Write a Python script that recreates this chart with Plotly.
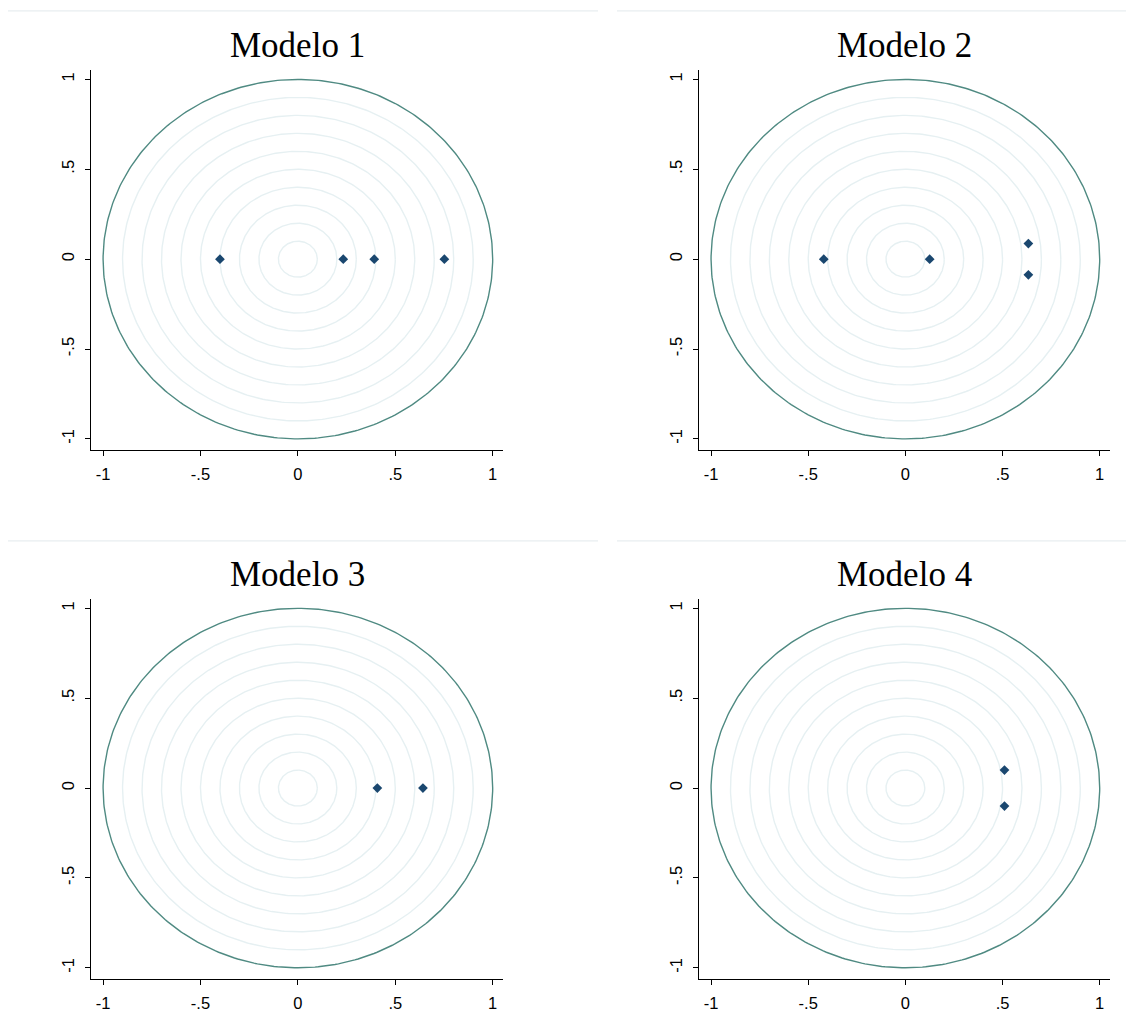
import numpy as np
import plotly.graph_objects as go

# ---- data ----
titles = ["Modelo 1", "Modelo 2", "Modelo 3", "Modelo 4"]
real_parts = [
    [-0.40, 0.233, 0.392, 0.752],
    [-0.42, 0.125, 0.633, 0.633],
    [0.408, 0.642],
    [0.51, 0.51],
]
imag_parts = [
    [0.0, 0.0, 0.0, 0.0],
    [0.0, 0.0, 0.087, -0.087],
    [0.0, 0.0],
    [0.10, -0.10],
]
grid_radii = [0.1, 0.2, 0.3, 0.4, 0.5, 0.6, 0.7, 0.8, 0.9]
unit_radius = 1.0
tick_vals = [-1, -0.5, 0, 0.5, 1]
tick_text = ["-1", "-.5", "0", ".5", "1"]

# ---- layout geometry (page pixels; body margin removed below) ----
W, H = 1134, 1012


def px(v):
    return v / W


def py(v):
    return 1 - v / H


x_doms = [(px(91), px(503)), (px(699), px(1110))]
y_doms = [(py(452), py(70)), (py(983), py(601))]

theta = np.linspace(0, 2 * np.pi, 361)

fig = go.Figure()
layout = dict(
    width=W, height=H,
    margin=dict(l=0, r=0, t=0, b=0, pad=0),
    paper_bgcolor="white", plot_bgcolor="white",
    showlegend=False,
)

annotations = []
shapes = []
for i in range(4):
    row, col = divmod(i, 2)
    xa = "x" if i == 0 else f"x{i+1}"
    ya = "y" if i == 0 else f"y{i+1}"
    xkey = "xaxis" if i == 0 else f"xaxis{i+1}"
    ykey = "yaxis" if i == 0 else f"yaxis{i+1}"
    for r in grid_radii:
        fig.add_trace(go.Scatter(
            x=r * np.cos(theta), y=r * np.sin(theta), mode="lines",
            line=dict(color="#e6f0f2", width=1.4), hoverinfo="skip",
            xaxis=xa, yaxis=ya))
    fig.add_trace(go.Scatter(
        x=unit_radius * np.cos(theta), y=unit_radius * np.sin(theta), mode="lines",
        line=dict(color="#4f8a82", width=1.4), hoverinfo="skip",
        xaxis=xa, yaxis=ya))
    fig.add_trace(go.Scatter(
        x=real_parts[i], y=imag_parts[i], mode="markers",
        marker=dict(symbol="diamond", size=7.5, color="#1a476f"),
        xaxis=xa, yaxis=ya))
    axis_common = dict(
        showgrid=False, zeroline=False, showline=True, linecolor="black", linewidth=1.3,
        ticks="outside", ticklen=5, tickwidth=1.3, tickcolor="black",
        tickvals=tick_vals, ticktext=tick_text, ticklabelstandoff=4,
        tickfont=dict(family="Liberation Sans, Arial", size=16.5, color="black"),
    )
    layout[xkey] = dict(axis_common, domain=list(x_doms[col]), range=[-1.062, 1.053],
                        anchor=ya)
    layout[ykey] = dict(axis_common, domain=list(y_doms[row]), range=[-1.063, 1.054],
                        anchor=xa, tickangle=-90)
    # title
    xc = (x_doms[col][0] + x_doms[col][1]) / 2
    ytop = y_doms[row][1]
    annotations.append(dict(
        text=titles[i], x=xc, y=ytop + 24 / H, xref="paper", yref="paper",
        xanchor="center", yanchor="middle", showarrow=False,
        font=dict(family="Liberation Serif, Times New Roman", size=35, color="black")))
    # separator line above each panel
    sx0, sx1 = (px(8), px(598)) if col == 0 else (px(617), px(1126))
    sy = py(11 if row == 0 else 543)
    shapes.append(dict(type="line", xref="paper", yref="paper",
                       x0=sx0, x1=sx1, y0=sy, y1=sy,
                       line=dict(color="#e8eef0", width=1.2)))

layout["annotations"] = annotations
layout["shapes"] = shapes
fig.update_layout(**layout)
fig.write_html(
    "out.html",
    config={"displayModeBar": False},
    post_script="document.body.style.margin='0';"
                "document.documentElement.style.overflow='hidden';",
)
